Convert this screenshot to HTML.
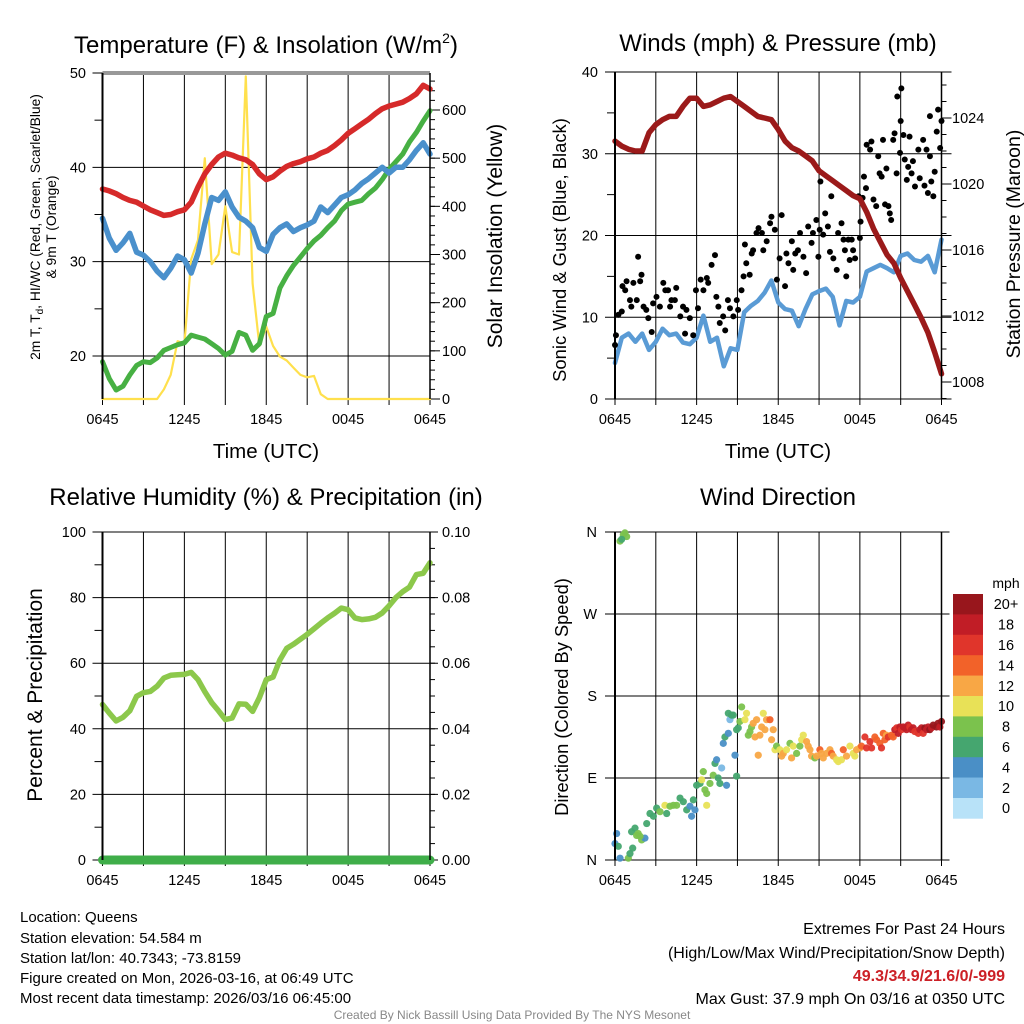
<!DOCTYPE html>
<html><head><meta charset="utf-8"><style>
html,body{margin:0;padding:0;background:#fff}
svg{display:block;font-family:"Liberation Sans",sans-serif}
</style></head><body>
<svg id="chart" width="1024" height="1024" viewBox="0 0 1024 1024" xmlns="http://www.w3.org/2000/svg">
<rect width="1024" height="1024" fill="#fff"/>
<g id="static" font-size="14" fill="#000">
<text x="266" y="53" font-size="24" text-anchor="middle">Temperature (F) &amp; Insolation (W/m<tspan font-size="14" dy="-10">2</tspan><tspan dy="10">)</tspan></text>
<text x="778" y="51" font-size="24" text-anchor="middle">Winds (mph) &amp; Pressure (mb)</text>
<text x="266" y="505" font-size="24" text-anchor="middle">Relative Humidity (%) &amp; Precipitation (in)</text>
<text x="778" y="505" font-size="24" text-anchor="middle">Wind Direction</text>
<text x="266" y="458" font-size="20.5" text-anchor="middle">Time (UTC)</text>
<text x="778" y="458" font-size="20.5" text-anchor="middle">Time (UTC)</text>
<text transform="translate(40,227) rotate(-90)" font-size="13.8" text-anchor="middle">2m T, T<tspan font-size="10" dy="3">d</tspan><tspan dy="-3">, HI/WC (Red, Green, Scarlet/Blue)</tspan></text>
<text transform="translate(56,227) rotate(-90)" font-size="13.8" text-anchor="middle">&amp; 9m T (Orange)</text>
<text transform="translate(502,236) rotate(-90)" font-size="21" text-anchor="middle">Solar Insolation (Yellow)</text>
<text transform="translate(566,250) rotate(-90)" font-size="18.4" text-anchor="middle">Sonic Wind &amp; Gust (Blue, Black)</text>
<text transform="translate(1020,244) rotate(-90)" font-size="19.5" text-anchor="middle">Station Pressure (Maroon)</text>
<text transform="translate(42,695) rotate(-90)" font-size="21" text-anchor="middle">Percent &amp; Precipitation</text>
<text transform="translate(568,697) rotate(-90)" font-size="18.3" text-anchor="middle">Direction (Colored By Speed)</text>
<text x="1006" y="588" text-anchor="middle" font-size="14">mph</text>
<g font-size="15">
<text x="20" y="922">Location: Queens</text>
<text x="20" y="943">Station elevation: 54.584 m</text>
<text x="20" y="963">Station lat/lon: 40.7343; -73.8159</text>
<text x="20" y="983">Figure created on Mon, 2026-03-16, at 06:49 UTC</text>
<text x="20" y="1003">Most recent data timestamp: 2026/03/16 06:45:00</text>
</g>
<g font-size="16" text-anchor="end">
<text x="1005" y="934">Extremes For Past 24 Hours</text>
<text x="1005" y="958">(High/Low/Max Wind/Precipitation/Snow Depth)</text>
<text x="1005" y="981" fill="#cc2026" font-weight="bold">49.3/34.9/21.6/0/-999</text>
<text x="1005" y="1004">Max Gust: 37.9 mph On 03/16 at 0350 UTC</text>
</g>
<text x="512" y="1019" font-size="12" fill="#888" text-anchor="middle">Created By Nick Bassill Using Data Provided By The NYS Mesonet</text>
</g>
<g id="dyn"></g>
</svg>
<script>
// ---- DATA (half-hourly from 0645 UTC to 0645 UTC) ----
const xTickLabels = ["0645","1245","1845","0045","0645"];
const tempF = [37.7,37.5,37.2,36.8,36.5,36.3,35.9,35.5,35.2,34.9,35.0,35.3,35.5,36.3,37.9,39.3,40.3,41.1,41.5,41.3,41.0,40.8,40.3,39.3,38.7,39.0,39.6,40.1,40.4,40.6,40.9,41.1,41.5,41.8,42.3,42.9,43.6,44.1,44.6,45.1,45.7,46.2,46.5,46.7,46.9,47.3,47.8,48.7,48.3];
const dewF = [34.6,32.5,31.2,32.0,33.0,31.0,30.7,30.0,29.0,28.3,29.3,30.6,30.2,28.8,30.9,34.0,36.8,36.5,37.4,35.8,34.7,34.3,33.6,31.5,31.1,32.9,33.6,34.0,33.2,33.6,33.9,34.3,35.8,35.2,36.0,36.8,37.1,37.6,38.3,38.8,39.4,40.0,39.4,40.0,40.0,40.8,41.8,42.6,41.4];
const hiwcF = [19.4,17.6,16.4,16.8,18.0,19.0,19.4,19.3,19.8,20.6,20.9,21.2,21.4,22.2,22.0,21.8,21.3,20.8,20.1,20.5,22.5,22.2,20.6,21.3,24.2,24.5,27.2,28.5,29.6,30.5,31.4,32.2,32.8,33.6,34.3,35.4,36.1,36.3,36.5,37.2,37.8,38.7,39.8,40.6,41.4,42.7,43.7,44.9,46.0];
const insolation = [0,0,0,0,0,0,0,0,0,20,50,120,115,290,330,500,280,300,400,305,300,670,240,110,150,110,88,80,65,50,45,48,10,0,0,0,0,0,0,0,0,0,0,0,0,0,0,0,0];
const windMph = [4.4,7.5,8.0,7.0,8.0,6.0,7.0,8.6,7.8,8.0,6.9,6.7,7.5,10.2,7.0,7.5,4.0,6.2,6.0,10.6,11.4,12.0,13.0,14.5,11.8,11.0,10.8,8.9,11.0,12.8,13.2,13.5,12.5,9.0,12.0,11.8,12.5,15.6,16.0,16.4,16.0,15.5,17.5,17.8,17.0,16.8,17.5,15.5,19.5];
const pressureMb = [1022.6,1022.3,1022.1,1022.0,1022.0,1023.1,1023.6,1023.9,1024.1,1024.1,1024.7,1025.2,1025.2,1024.7,1024.8,1025.0,1025.2,1025.3,1025.0,1024.7,1024.4,1024.1,1024.0,1023.9,1023.3,1022.6,1022.2,1022.0,1021.7,1021.4,1020.8,1020.5,1020.2,1019.9,1019.6,1019.3,1019.1,1018.3,1017.3,1016.5,1015.7,1015.2,1014.3,1013.5,1012.7,1011.9,1011.0,1009.8,1008.5];
const rhPct = [47.4,44.8,42.4,43.5,45.5,49.9,51,51.4,53,55.5,56.3,56.5,56.6,57.2,55,51.3,48,45.5,42.8,43.3,47.6,47.5,45.3,49.5,55,55.8,61,64.5,65.8,67.3,68.8,70.5,72.2,73.8,75.2,76.8,76.3,73.8,73.3,73.5,74,75.3,77.5,80,81.8,83.2,87,87.4,90.6];
const precipIn = [0,0,0,0,0,0,0,0,0,0,0,0,0,0,0,0,0,0,0,0,0,0,0,0,0,0,0,0,0,0,0,0,0,0,0,0,0,0,0,0,0,0,0,0,0,0,0,0,0];
const gustHours = [0,0.07,0.25,0.5,0.55,0.85,0.75,1.1,1.2,1.35,1.6,1.7,1.85,1.95,2.1,2.3,2.45,2.7,2.8,3.05,3.3,3.55,3.7,3.9,4.05,4.15,4.4,4.5,4.8,5.0,5.15,5.25,5.5,5.75,5.95,6.1,6.3,6.5,6.75,6.85,7.1,7.35,7.45,7.6,7.7,7.95,8.1,8.3,8.45,8.7,8.95,9.05,9.3,9.45,9.55,9.65,9.9,10.05,10.15,10.4,10.55,10.8,10.9,11.15,11.4,11.5,11.75,11.9,12.1,12.25,12.5,12.6,12.75,13.0,13.1,13.25,13.45,13.6,13.85,14.05,14.2,14.45,14.55,14.8,14.95,15.05,15.1,15.3,15.45,15.65,15.8,15.9,16.05,16.3,16.4,16.65,16.8,16.9,17.0,17.15,17.25,17.4,17.5,17.65,17.9,18.0,18.05,18.2,18.3,18.45,18.5,18.75,18.85,19.0,19.2,19.35,19.45,19.6,19.7,19.85,19.95,20.1,20.2,20.3,20.45,20.55,20.7,20.75,20.95,21.05,21.0,21.2,21.3,21.45,21.55,21.65,21.8,21.9,22.05,22.3,22.4,22.65,22.75,22.9,23.0,23.15,23.25,23.4,23.5,23.65,23.75,23.9,24.0,23.15];
const gustMph = [6.6,7.8,10.3,10.7,13.8,14.4,13.3,12.1,11.3,14.2,12.1,17.4,14.4,15.2,11.3,10.9,9.9,8.2,11.7,12.5,11.3,14.2,13.3,13.3,11.3,12.1,12.1,13.6,10.1,11.3,8.0,10.9,9.9,7.8,13.3,11.1,14.6,13.3,14.8,14.2,16.4,17.6,12.5,11.3,9.3,10.1,8.4,12.1,11.1,10.1,12.1,10.9,13.3,15.0,18.9,16.6,15.2,17.8,18.2,20.3,20.9,20.3,18.2,19.3,21.5,22.3,20.7,14.6,17.2,22.5,13.8,17.8,16.6,19.3,15.8,17.8,18.2,20.3,17.4,15.4,21.1,19.1,20.3,21.9,17.4,20.7,26.6,20.1,22.7,21.1,18.0,24.8,17.2,15.8,20.3,21.5,19.5,18.2,15.0,19.5,17.0,19.5,18.2,17.2,24.8,19.7,21.7,24.6,27.2,25.8,31.1,30.5,31.5,24.4,23.6,29.7,27.6,27.2,31.7,23.8,28.2,23.6,22.7,21.9,31.7,32.5,27.6,37.0,30.1,38.0,34.0,32.3,29.3,26.8,28.4,32.1,27.6,29.1,26.0,30.5,27.0,31.7,26.1,30.5,25.2,29.7,26.6,24.8,27.8,32.7,35.4,30.7,34.0,34.6];
const dirHours = [0.37,0.61,0.86,0.73,0.49,0,0.12,0.37,0.24,0.98,1.10,1.30,1.22,1.47,1.71,1.96,2.20,1.84,1.59,2.33,2.57,2.82,3.06,3.31,3.67,3.80,4.04,4.29,4.53,4.78,5.02,5.27,5.51,5.63,5.76,5.88,6.0,6.25,6.37,6.49,6.61,6.74,6.74,6.98,7.22,7.35,7.47,7.59,7.71,7.84,7.96,8.2,8.08,8.33,8.45,8.33,8.57,8.69,8.82,8.94,8.94,9.06,9.18,9.31,9.55,9.67,9.8,9.92,10.04,10.16,10.29,10.41,10.53,10.65,10.78,10.9,11.02,11.14,11.39,11.51,11.63,11.76,11.88,12.12,12.25,12.37,12.61,12.86,12.98,13.1,13.35,13.59,13.72,13.84,14.08,14.2,14.33,14.45,14.69,14.82,15.06,15.18,15.31,15.55,15.8,15.92,16.04,16.29,16.41,16.65,16.78,17.02,17.27,17.51,17.63,17.76,18.0,18.12,18.37,18.49,18.74,18.86,19.1,19.23,19.47,19.59,19.72,19.84,19.96,20.08,20.33,20.45,20.57,20.7,20.82,20.94,21.06,21.19,21.31,21.43,21.55,21.67,21.8,21.92,22.04,22.29,22.41,22.53,22.65,22.78,22.9,23.02,23.14,23.27,23.39,23.63,23.75,23.88,24.0];
const dirDeg = [350,357,355,359,352,18,29,2,15,2,7,13,31,35,29,22,24,26,27,40,51,48,57,53,60,51,59,60,60,68,64,55,59,48,66,55,82,84,88,97,77,73,60,84,93,106,110,90,84,101,128,82,135,139,154,161,159,159,115,92,143,145,152,168,154,161,137,141,146,150,135,154,115,137,146,161,143,154,154,132,143,121,125,121,114,117,121,128,112,125,117,125,132,137,130,125,121,114,112,114,121,117,112,117,121,117,114,110,108,110,121,114,125,117,114,121,123,125,135,123,130,123,135,132,128,123,139,132,137,135,137,135,143,145,139,146,143,146,145,143,148,146,143,145,141,139,143,145,139,145,143,146,143,145,148,146,150,146,152];
const dirSpeed = [8,8,8,8,6,4,4,4,6,8,6,6,6,6,8,8,4,8,8,6,6,6,6,8,10,6,8,8,8,6,6,6,4,4,6,4,6,6,10,8,8,8,10,8,8,6,4,6,6,2,4,4,6,4,2,6,6,6,4,6,6,6,8,8,10,10,8,8,8,12,12,12,12,12,12,10,12,12,14,12,12,10,8,10,12,12,10,8,12,10,8,8,10,10,12,12,12,12,8,12,14,12,12,12,12,14,12,10,10,10,14,12,10,10,10,12,12,14,16,16,16,16,14,14,14,16,14,14,12,16,14,14,18,16,18,18,16,18,18,18,18,16,18,18,16,16,18,18,16,20,18,18,20,18,20,20,20,18,20];
const speedLabels = ["20+","18","16","14","12","10","8","6","4","2","0"];
const speedColors = ["#98161c","#c11d26","#e0352b","#f26229","#f8a745","#e8e157","#7bc24d","#45a66f","#4a8fc6","#7ab8e4","#b8e2f8"];

// ---- helpers ----
const NS = "http://www.w3.org/2000/svg";
const dyn = document.getElementById("dyn");
function el(tag, attrs, parent) {
  const e = document.createElementNS(NS, tag);
  for (const k in attrs) e.setAttribute(k, attrs[k]);
  (parent || dyn).appendChild(e);
  return e;
}
function lin(d0, d1, r0, r1) { return v => r0 + (v - d0) / (d1 - d0) * (r1 - r0); }
const halfHour = i => i * 0.5;

function frame(x0, x1, yT, yB, g) {
  const xs = lin(0, 24, x0, x1);
  for (let h = 0; h <= 24; h += 3) {
    const ln = el("line", {x1: xs(h), x2: xs(h), y1: yT, y2: yB + 6, stroke: "#000", "stroke-width": 1}, g);
    
    
  }
  xTickLabels.forEach((lab, i) => {
    const t = el("text", {x: xs(i * 6), y: yB + 25, "text-anchor": "middle", "font-size": 14.5}, g);
    
    
    t.textContent = lab;
  });
  return xs;
}
function hgrid(ys, vals, x0, x1, g) {
  vals.forEach(v => {
    const ln = el("line", {x1: x0 - 10, x2: x1, y1: ys(v), y2: ys(v), stroke: "#000", "stroke-width": 1}, g);
    
    
  });
}
function ticks(ys, vals, x, len, g) {
  vals.forEach(v => {
    const ln = el("line", {x1: x, x2: x + len, y1: ys(v), y2: ys(v), stroke: "#000", "stroke-width": 1}, g);
    
    
  });
}
function labels(ys, vals, texts, x, anchor, g) {
  vals.forEach((v, i) => {
    const t = el("text", {x: x, y: ys(v) + 5, "text-anchor": anchor, "font-size": 14.5}, g);
    
    
    t.textContent = texts[i];
  });
}
function axesBox(x0, x1, yT, yB, g) {
  el("line", {x1: x0, x2: x0, y1: yT, y2: yB, stroke: "#000", "stroke-width": 2}, g);
  el("line", {x1: x1, x2: x1, y1: yT, y2: yB, stroke: "#000", "stroke-width": 1.5}, g);
}
function series(arr, xs, ys, color, w, name, g) {
  const pts = arr.map((v, i) => xs(halfHour(i)).toFixed(1) + "," + ys(v).toFixed(1)).join(" ");
  const p = el("polyline", {points: pts, fill: "none", stroke: color, "stroke-width": w, "stroke-linejoin": "round", "stroke-linecap": "round"}, g);
  
  
  return p;
}
function range(a, b, s) { const r = []; for (let v = a; v <= b + 1e-9; v += s) r.push(+v.toFixed(4)); return r; }

// ---- Panel 1: Temperature ----
(function () {
  const g = el("g", {});
  
  
  const x0 = 102.5, x1 = 430, yT = 73, yB = 399;
  const xs = frame(x0, x1, yT, yB, g);
  const ys = lin(50, 20, 73, 356);
  const yr = lin(0, 600, 399, 110);
  hgrid(ys, [50, 40, 30, 20], x0, x1, g);
  el("line", {x1: x0, x2: x1, y1: 73, y2: 73, stroke: "#999", "stroke-width": 4}, g);
  ticks(ys, [45, 35, 25], x0 - 8, 8, g);
  labels(ys, [50, 40, 30, 20], ["50", "40", "30", "20"], 86, "end", g);
  ticks(yr, range(0, 660, 20), x1, 5, g);
  ticks(yr, range(0, 600, 100), x1, 10, g);
  labels(yr, range(0, 600, 100), ["0", "100", "200", "300", "400", "500", "600"], 442, "start", g);
  series(insolation, xs, v => Math.max(yr(v), 73), "#ffe04d", 2.2, "insolation-line", g);
  series(hiwcF, xs, ys, "#47b043", 5, "heat-index-line", g);
  series(dewF, xs, ys, "#4a90cc", 5.5, "dewpoint-line", g);
  series(tempF, xs, ys, "#d62a2a", 5.5, "temperature-line", g);
  axesBox(x0, x1, yT, yB, g);
})();

// ---- Panel 2: Winds & Pressure ----
(function () {
  const g = el("g", {});
  
  
  const x0 = 615, x1 = 941.5, yT = 72, yB = 399;
  const xs = frame(x0, x1, yT, yB, g);
  const ys = lin(0, 40, 399, 72);
  const yp = lin(1008, 1024, 382, 118);
  hgrid(ys, [0, 10, 20, 30, 40], x0, x1 + 10, g);
  ticks(ys, [5, 15, 25, 35], x0 - 8, 8, g);
  labels(ys, [0, 10, 20, 30, 40], ["0", "10", "20", "30", "40"], 598, "end", g);
  ticks(yp, range(1007, 1026, 1), x1, 5, g);
  ticks(yp, [1008, 1012, 1016, 1020, 1024], x1, 10, g);
  labels(yp, [1008, 1012, 1016, 1020, 1024], ["1008", "1012", "1016", "1020", "1024"], 952, "start", g);
  series(windMph, xs, ys, "#5a9bd5", 4.5, "sonic-wind-line", g);
  gustHours.forEach((h, i) => {
    const c = el("circle", {cx: xs(h), cy: ys(gustMph[i]), r: 3, fill: "#000"}, g);
    
    
  });
  series(pressureMb, xs, yp, "#9b1a1a", 5.5, "pressure-line", g);
  axesBox(x0, x1, yT, yB, g);
})();

// ---- Panel 3: RH & Precip ----
(function () {
  const g = el("g", {});
  
  
  const x0 = 102.5, x1 = 430, yT = 532, yB = 860;
  const xs = frame(x0, x1, yT, yB, g);
  const ys = lin(0, 100, 860, 532);
  const yr = lin(0, 0.1, 860, 532);
  hgrid(ys, [0, 20, 40, 60, 80, 100], x0, x1 + 8, g);
  ticks(ys, [10, 30, 50, 70, 90], x0 - 8, 8, g);
  labels(ys, [0, 20, 40, 60, 80, 100], ["0", "20", "40", "60", "80", "100"], 86, "end", g);
  ticks(yr, range(0, 0.1, 0.005), x1, 5, g);
  labels(yr, range(0, 0.1, 0.02), ["0.00", "0.02", "0.04", "0.06", "0.08", "0.10"], 442, "start", g);
  series(rhPct, xs, ys, "#8cc84b", 5.5, "rh-line", g);
  series(precipIn, xs, yr, "#3fae49", 9, "precip-line", g);
  axesBox(x0, x1, yT, yB, g);
})();

// ---- Panel 4: Wind direction ----
(function () {
  const g = el("g", {});
  
  
  const x0 = 615, x1 = 941.5, yT = 532, yB = 860;
  const xs = frame(x0, x1, yT, yB, g);
  const ys = lin(0, 360, 860, 532);
  hgrid(ys, [0, 90, 180, 270, 360], x0, x1 + 8, g);
  labels(ys, [360, 270, 180, 90, 0], ["N", "W", "S", "E", "N"], 597, "end", g);
  dirHours.forEach((h, i) => {
    const bin = Math.min(10, Math.floor(dirSpeed[i] / 2));
    const c = el("circle", {cx: xs(h), cy: ys(dirDeg[i]), r: 3.6, fill: speedColors[10 - bin], "fill-opacity": 0.95}, g);
    
    
  });
  axesBox(x0, x1, yT, yB, g);
  const cb = el("g", {}, g);
  
  
  const bh = 20.4;
  speedLabels.forEach((lab, i) => {
    const r = el("rect", {x: 953, y: 594 + i * bh, width: 30, height: bh + 0.3, fill: speedColors[i]}, cb);
    
    
    const t = el("text", {x: 1006, y: 594 + i * bh + bh / 2 + 5, "text-anchor": "middle", "font-size": 14.5}, cb);
    
    
    t.textContent = lab;
  });
})();
</script>
</body></html>
